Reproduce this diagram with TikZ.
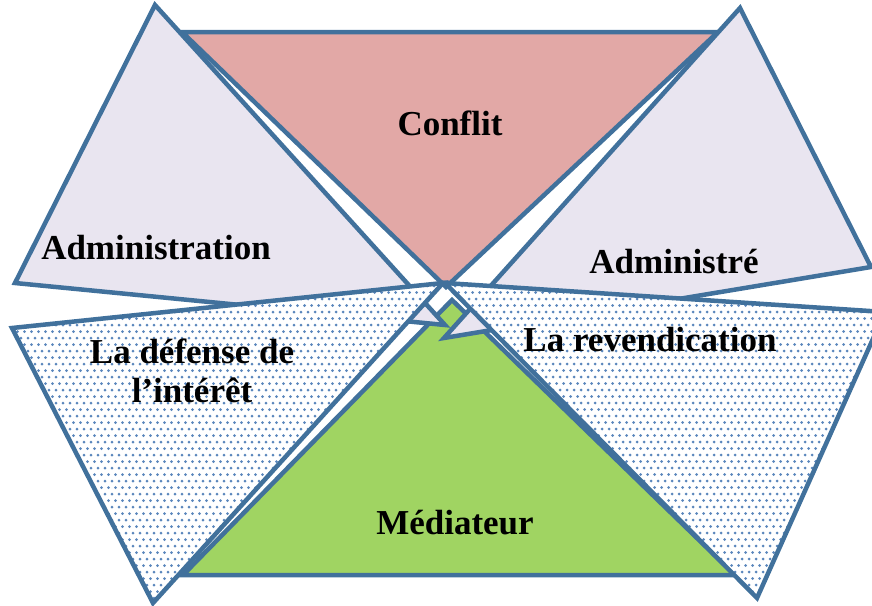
\documentclass[tikz,border=0pt]{standalone}
\usepackage{fontspec}
\setmainfont{Liberation Serif}

\definecolor{edgeblue}{HTML}{41719C}
\definecolor{conflitpink}{HTML}{E2A8A6}
\definecolor{partylilac}{HTML}{E9E5F0}
\definecolor{mediatorgreen}{HTML}{A0D462}
\definecolor{dotblue}{HTML}{5A86BC}

\tikzset{
  tri/.style={draw=edgeblue, line width=4.5pt, line join=miter},
  lbl/.style={font=\bfseries\fontsize{35}{39}\selectfont, align=center, inner sep=0pt}
}

% dots over a box, clipped by the caller
\newcommand{\dotgrid}[4]{%
  \foreach \dx in {#1,...,#2}
    \foreach \dy in {#3,...,#4}
      \fill[dotblue] ({7*\dx+3.5*mod(\dy,2)}, {6.5*\dy}) circle (1.5);
}

\begin{document}
\begin{tikzpicture}[x=1pt, y=-1pt]
    \useasboundingbox (0,0) rectangle (872,605);

    % conflit and mediateur
    \filldraw[tri, fill=conflitpink] (182,32) -- (718,32) -- (446,287) -- cycle;
    \filldraw[tri, fill=mediatorgreen] (452,300) -- (183,575) -- (735,575) -- cycle;

    % the two parties
    \filldraw[tri, fill=partylilac] (155,5) -- (15,283) -- (445,325) -- cycle;
    \filldraw[tri, fill=partylilac] (740,8) -- (871,267) -- (444,338) -- cycle;

    % their positions
    \begin{scope}
        \clip (0,0) rectangle (872,605);
        \fill[white] (12,328) -- (153,603) -- (443,283) -- cycle;
        \fill[white] (445,283) -- (885,312) -- (757,598) -- cycle;
        \begin{scope}
            \clip (12,328) -- (153,603) -- (443,283) -- cycle;
            \dotgrid{1}{64}{43}{93}
        \end{scope}
        \begin{scope}
            \clip (445,283) -- (885,312) -- (757,598) -- cycle;
            \dotgrid{63}{126}{43}{93}
        \end{scope}
        \draw[tri] (12,328) -- (153,603) -- (443,283) -- cycle;
        \draw[tri] (445,283) -- (885,312) -- (757,598) -- cycle;
    \end{scope}

    \draw (450,123) node (conflit) [lbl] {Conflit};
    \draw (156,248) node (admin) [lbl] {Administration};
    \draw (674,262) node (administre) [lbl] {Administré};
    \draw (192,371) node (defense) [lbl] {La défense de\\l’intérêt};
    \draw (650,340) node (revend) [lbl] {La revendication};
    \draw (455,523) node (mediateur) [lbl] {Médiateur};
\end{tikzpicture}
\end{document}
